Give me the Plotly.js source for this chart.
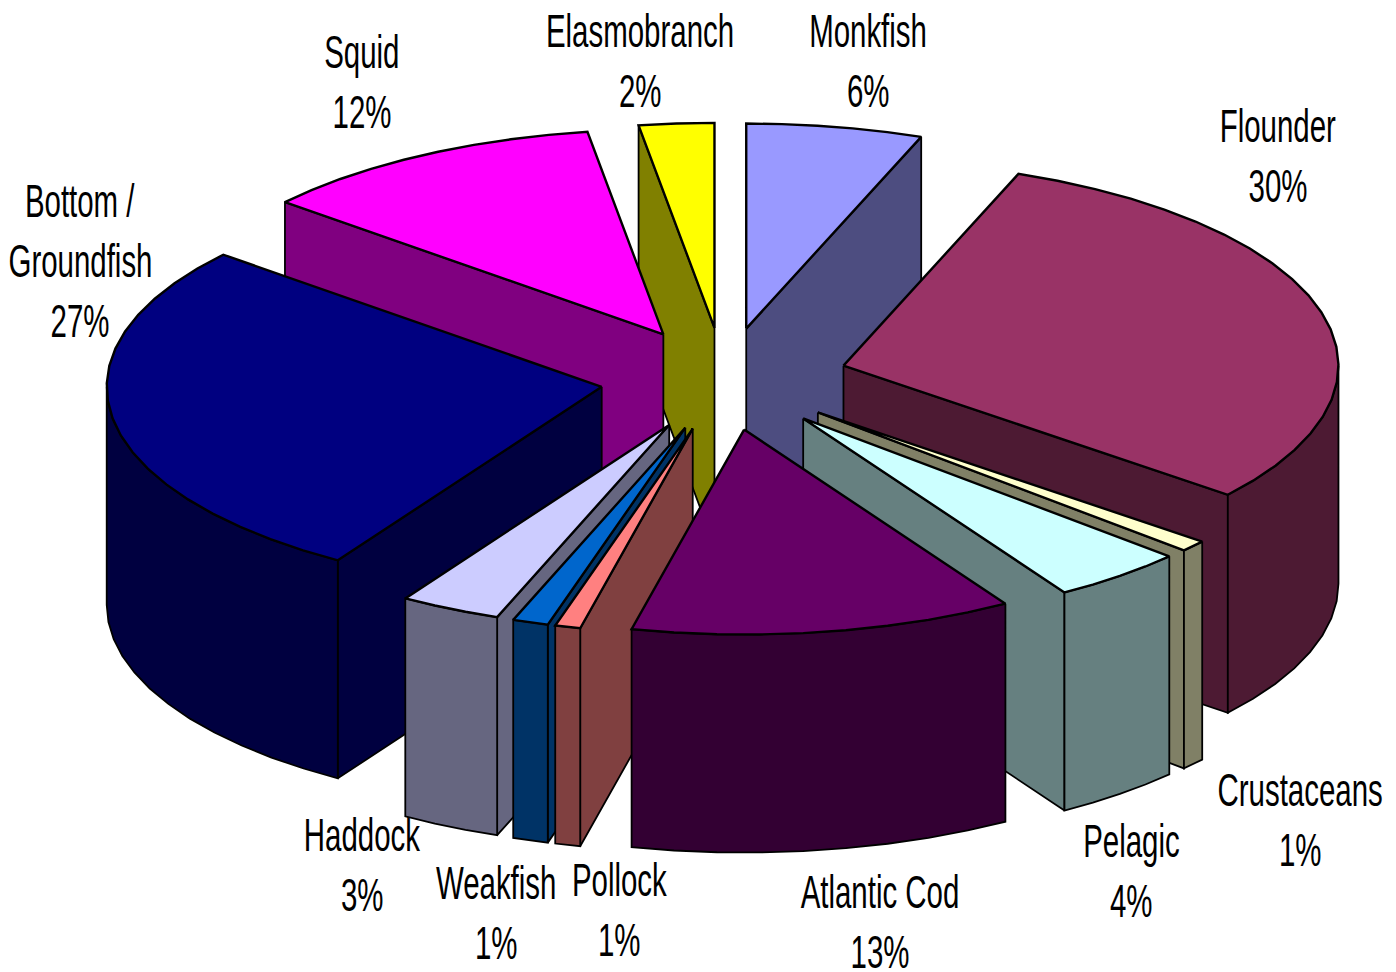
<!DOCTYPE html>
<html><head><meta charset="utf-8">
<script src="https://cdn.plot.ly/plotly-3.0.1.min.js"></script>
<style>html,body{margin:0;padding:0;background:#fff}#c{width:1396px;height:972px}</style>
</head><body><div id="c"></div>
<script>
const categories = ['Monkfish','Flounder','Crustaceans','Pelagic','Atlantic Cod','Pollock','Weakfish','Haddock','Bottom / Groundfish','Squid','Elasmobranch'];
const shares = [5.75,30.1,0.9,4.4,12.5,0.83,1.17,3.3,27.2,11.4,2.45];
const percentLabels = ['6%','30%','1%','4%','13%','1%','1%','3%','27%','12%','2%'];
const topColors = ['#9999FF','#993366','#FFFFCC','#CCFFFF','#660066','#FF8080','#0066CC','#CCCCFF','#000080','#FF00FF','#FFFF00'];
const sideColors = ['#4D4D80','#4D1A33','#808066','#668080','#330033','#804040','#003366','#666680','#000040','#800080','#808000'];
const labelLines = [['Monkfish'],['Flounder'],['Crustaceans'],['Pelagic'],['Atlantic Cod'],['Pollock'],['Weakfish'],['Haddock'],['Bottom /','Groundfish'],['Squid'],['Elasmobranch']];
const labelX = [868,1278,1300,1131,880,619,496,362,80,362,640];
const labelY = [31,126,790,841,892,880,883,835,201,52,31];
const lineGap = 60;
const cx=724, cy=379, rx=495, ry=205, depth=218, explode=0.25, stepDeg=5, narrow=0.64;
const rad=d=>d*Math.PI/180;
const total=shares.reduce((a,b)=>a+b,0);
let acc=0;
const slices=categories.map((name,i)=>{const a=acc/total*360;acc+=shares[i];const b=acc/total*360;const m=(a+b)/2;
  return {name,i,a,b,m,ox:cx+explode*rx*Math.sin(rad(m)),oy:cy-explode*ry*Math.cos(rad(m))};});
const pt=(s,t,dz=0)=>[s.ox+rx*Math.sin(rad(t)),s.oy-ry*Math.cos(rad(t))+dz];
function arc(s,a,b,dz=0){const n=Math.max(1,Math.ceil((b-a)/stepDeg));const o=[];for(let k=0;k<=n;k++)o.push(pt(s,a+(b-a)*k/n,dz));return o;}
const traces=[];
function poly(points,color,name,w){const x=points.map(p=>p[0]),y=points.map(p=>p[1]);x.push(x[0]);y.push(y[0]);
  traces.push({type:'scatter',mode:'lines',x,y,fill:'toself',fillcolor:color,line:{color:'#000',width:w},hoverinfo:'skip',showlegend:false,name});}
slices.slice().sort((p,q)=>-Math.cos(rad(p.m))+Math.cos(rad(q.m))).forEach(s=>{
  const side=sideColors[s.i],top=topColors[s.i];
  if(Math.sin(rad(s.a))<-1e-6){const e=pt(s,s.a);poly([[s.ox,s.oy],e,[e[0],e[1]+depth],[s.ox,s.oy+depth]],side,s.name,1.8);}
  if(Math.sin(rad(s.b))>1e-6){const e=pt(s,s.b);poly([[s.ox,s.oy],e,[e[0],e[1]+depth],[s.ox,s.oy+depth]],side,s.name,1.8);}
  const va=Math.max(s.a,90),vb=Math.min(s.b,270);
  if(vb>va){poly(arc(s,va,vb).concat(arc(s,va,vb,depth).reverse()),side,s.name,1.8);}
  poly([[s.ox,s.oy]].concat(arc(s,s.a,s.b)),top,s.name,2.4);
});
const annotations=[];
const font={family:'"Liberation Sans",Arial,sans-serif',size:46,color:'#000'};
categories.forEach((c,i)=>{const lines=labelLines[i].concat([percentLabels[i]]);
  lines.forEach((t,k)=>annotations.push({x:labelX[i],y:labelY[i]+k*lineGap,xref:'x',yref:'y',text:t,showarrow:false,font,xanchor:'center',yanchor:'middle'}));});
Plotly.newPlot('c',traces,{width:1396,height:972,margin:{l:0,r:0,t:0,b:0},paper_bgcolor:'#fff',plot_bgcolor:'#fff',showlegend:false,
  xaxis:{range:[0,1396],visible:false,fixedrange:true},yaxis:{range:[972,0],visible:false,fixedrange:true},annotations},{displayModeBar:false,staticPlot:true}).then(()=>{
  document.querySelectorAll('text.annotation-text').forEach(t=>{const b=t.getBBox();const c=b.x+b.width/2;
    t.setAttribute('transform','translate('+c+',0) scale('+narrow+',1) translate('+(-c)+',0)');});
});
</script></body></html>
